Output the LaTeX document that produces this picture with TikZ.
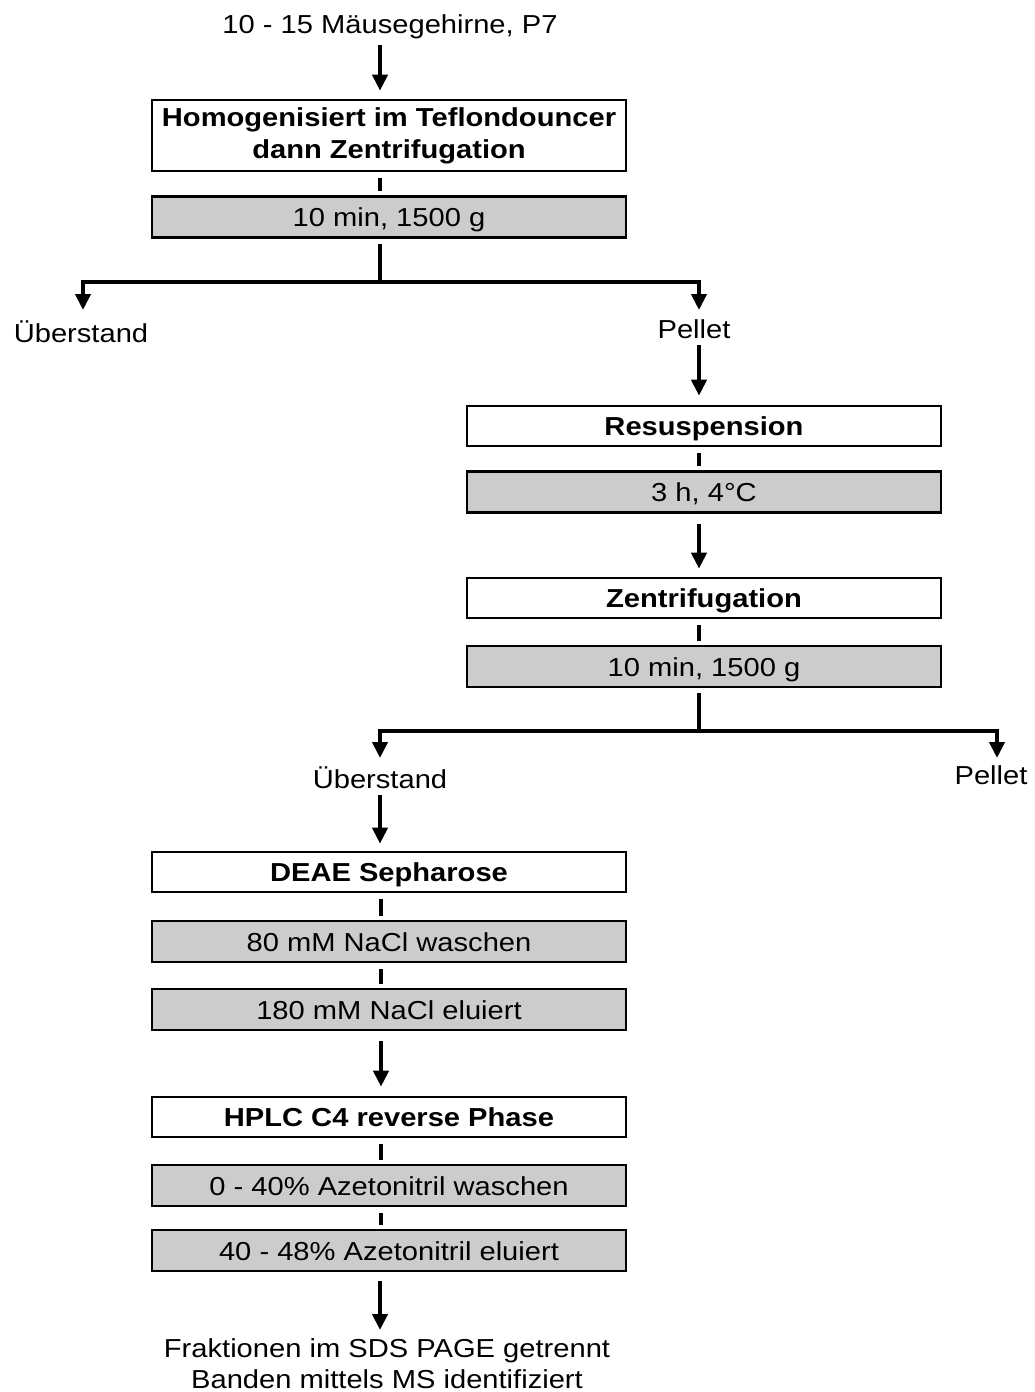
\documentclass[tikz,border=0pt]{standalone}
\usepackage{fontspec}
\setmainfont{Liberation Sans}[FakeStretch=1.12]
\usetikzlibrary{arrows.meta}
\begin{document}
\begin{tikzpicture}[x=1pt,y=-1pt,
  every node/.style={inner sep=0pt, font=\fontsize{26}{32}\selectfont},
  wbox/.style={draw, line width=2.6pt, fill=white, minimum width=474pt,
    font=\fontsize{26}{32}\selectfont\bfseries},
  sbox/.style={wbox, text height=19pt, text depth=0pt, minimum height=40pt},
  gbox/.style={sbox, fill=gray!40, minimum height=41pt, font=\fontsize{26}{32}\selectfont},
  lbl/.style={anchor=base},
  flow/.style={line width=4pt, -{Triangle[width=15pt,length=16pt]}},
  link/.style={line width=4pt}]
\useasboundingbox (0,0) rectangle (1034,1392);
\fill[white] (0,0) rectangle (1034,1392);

% column coordinates
\coordinate (cA) at (380,0);
\coordinate (cB) at (699,0);
\coordinate (cC) at (381,0);

% first stage
\node[lbl] (start) at (390,33) {10 - 15 Mäusegehirne, P7};
\node[wbox, minimum height=71pt, align=center] (b1) at (389,135.5) {Homogenisiert im Teflondouncer\\dann Zentrifugation};
\node[gbox] (g1) at (389,217) {10 min, 1500 g};

\draw[flow, shorten <=12pt, shorten >=8pt] (start.base -| cA) -- (b1.north -| cA);
\draw[link, shorten <=6pt, shorten >=4pt] (b1.south -| cA) -- (g1.north -| cA);

% first branch
\coordinate (j1) at (380,282);
\coordinate (a1) at (83,310);
\coordinate (a2) at (699,310);
\draw[link, shorten <=5pt] (g1.south -| cA) -- (j1);
\draw[flow] (j1) -| (a1);
\draw[flow] (j1) -| (a2);
\node[lbl] (ueb1) at (81,342) {Überstand};
\node[lbl] (pel1) at (694,338) {Pellet};

% second stage
\node[sbox] (r1) at (704,426) {Resuspension};
\node[gbox] (g2) at (704,492) {3 h, 4°C};
\node[sbox] (z1) at (704,598) {Zentrifugation};
\node[gbox] (g3) at (704,666.5) {10 min, 1500 g};

\draw[flow, shorten <=7pt, shorten >=9pt] (pel1.base -| cB) -- (r1.north -| cB);
\draw[link, shorten <=6pt, shorten >=4pt] (r1.south -| cB) -- (g2.north -| cB);
\draw[flow, shorten <=10pt, shorten >=8pt] (g2.south -| cB) -- (z1.north -| cB);
\draw[link, shorten <=6pt, shorten >=4pt] (z1.south -| cB) -- (g3.north -| cB);

% second branch
\coordinate (j2) at (699,731);
\coordinate (a3) at (380,758);
\coordinate (a4) at (997,758);
\draw[link, shorten <=5pt] (g3.south -| cB) -- (j2);
\draw[flow] (j2) -| (a3);
\draw[flow] (j2) -| (a4);
\node[lbl] (ueb2) at (380,788) {Überstand};
\node[lbl] (pel2) at (991,784) {Pellet};

% third stage
\node[sbox] (d1) at (389,872) {DEAE Sepharose};
\node[gbox] (g4) at (389,941.5) {80 mM NaCl waschen};
\node[gbox] (g5) at (389,1009.5) {180 mM NaCl eluiert};
\node[sbox] (h1) at (389,1117) {HPLC C4 reverse Phase};
\node[gbox] (g6) at (389,1185.5) {0 - 40\% Azetonitril waschen};
\node[gbox] (g7) at (389,1250.5) {40 - 48\% Azetonitril eluiert};
\node[align=center, anchor=north, font=\fontsize{26}{31}\selectfont] (fin) at (387,1338)
  {Fraktionen im SDS PAGE getrennt\\Banden mittels MS identifiziert};

\draw[flow, shorten <=7pt, shorten >=7pt] (ueb2.base -| cA) -- (d1.north -| cA);
\draw[link, shorten <=6pt, shorten >=4pt] (d1.south -| cC) -- (g4.north -| cC);
\draw[link, shorten <=6pt, shorten >=4pt] (g4.south -| cC) -- (g5.north -| cC);
\draw[flow, shorten <=10pt, shorten >=9pt] (g5.south -| cC) -- (h1.north -| cC);
\draw[link, shorten <=6pt, shorten >=4pt] (h1.south -| cC) -- (g6.north -| cC);
\draw[link, shorten <=6pt, shorten >=4pt] (g6.south -| cC) -- (g7.north -| cC);
\draw[flow, shorten <=9pt, shorten >=8pt] (g7.south -| cA) -- (fin.north -| cA);
\end{tikzpicture}
\end{document}
